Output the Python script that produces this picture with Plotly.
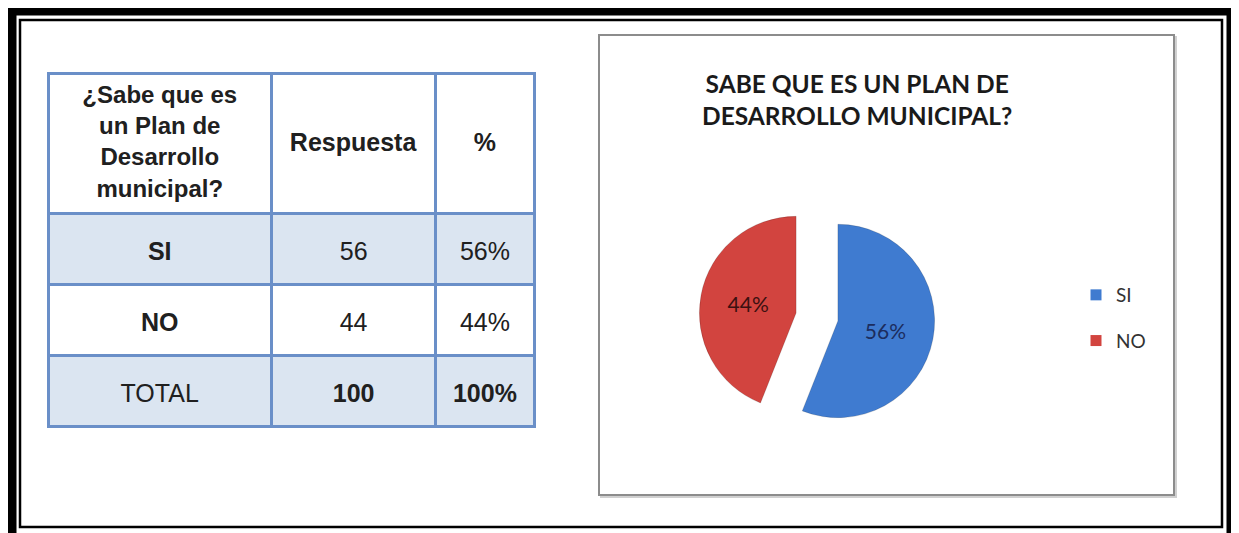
import plotly.graph_objects as go

# ---------------- data ----------------
categories = ["SI", "NO"]
responses = [56, 44]
percent_labels = ["56%", "44%"]
total_label = "TOTAL"
total_responses = "100"
total_percent = "100%"
header_question_lines = ["¿Sabe que es", "un Plan de", "Desarrollo", "municipal?"]
header_labels = ["Respuesta", "%"]
chart_title = "SABE QUE ES UN PLAN DE<br>DESARROLLO MUNICIPAL?"

slice_colors = ["#3f7bd0", "#d2443f"]
slice_text_colors = ["#1c2d5e", "#3c1010"]

# The page body has an 8px margin: work in screen pixels and convert.
OFF = 8
W, H = 1231, 525
NB = "\u00a0"


def X(px):
    return (px - OFF) / W


def Y(py):
    return 1 - (py - OFF) / H


def big(txt, bold=False, size=25, pad_lines=1):
    inner = "<b>%s</b>" % txt if bold else txt
    return (NB + "<br>") * pad_lines + "<span style='font-size:%dpx'>%s</span>" % (size, inner)


# Arial-bold advance widths (em) used to centre each line of the multi-line header
ARIAL_BOLD = {"¿": .611, "S": .667, "a": .556, "b": .611, "e": .556, " ": .278, "q": .611,
              "u": .611, "s": .556, "n": .611, "P": .667, "l": .278, "d": .611, "D": .722,
              "r": .389, "o": .611, "m": .889, "i": .278, "c": .556, "p": .611, "?": .611}
HDR_SIZE = 24


def centred_lines(lines, size):
    widths = [sum(ARIAL_BOLD.get(ch, .6) for ch in ln) for ln in lines]
    wmax = max(widths)
    nb_w = 0.278 * size
    out = []
    for ln, w in zip(lines, widths):
        pad_px = (wmax - w) / 2 * size
        n_full = int(pad_px // nb_w)
        rest = pad_px - n_full * nb_w
        pad = NB * n_full
        if rest > 0.5:
            pad += "<span style='font-size:%.1fpx'>%s</span>" % (rest / 0.278, NB)
        out.append(pad + "<b>%s</b>" % ln)
    return "<br>".join(out)


fig = go.Figure()

# ---------------- table ----------------
blue_fill = "#dbe5f1"
col1 = [big(c, bold=True) for c in categories] + [big(total_label)]
col2 = [big(str(v)) for v in responses] + [big(total_responses, bold=True)]
col3 = [big(p) for p in percent_labels] + [big(total_percent, bold=True)]
row_fills = [blue_fill, "white", blue_fill]

header_vals = [centred_lines(header_question_lines, HDR_SIZE)] + \
    [big(h, bold=True, pad_lines=2) for h in header_labels]

fig.add_trace(go.Table(
    domain=dict(x=[X(48), X(534)], y=[Y(445), Y(73)]),
    columnwidth=[223, 164, 98],
    header=dict(
        values=header_vals,
        height=140,
        align="center",
        fill_color="white",
        line=dict(color="#6a8fc8", width=3),
        font=dict(family="Liberation Sans, Arial", size=[HDR_SIZE, 20, 20], color="#202020"),
    ),
    cells=dict(
        values=[col1, col2, col3],
        height=71,
        align="center",
        fill_color=[row_fills, row_fills, row_fills],
        line=dict(color="#6a8fc8", width=3),
        font=dict(family="Liberation Sans, Arial", size=17.5, color="#202020"),
    ),
))

# ---------------- pie ----------------
fig.add_trace(go.Pie(
    labels=categories,
    values=responses,
    sort=False,
    direction="clockwise",
    rotation=0,
    pull=[0.22, 0.22],
    marker=dict(colors=slice_colors, line=dict(color="rgba(0,0,0,0.15)", width=1)),
    textinfo="percent",
    textposition="inside",
    insidetextorientation="horizontal",
    textfont=dict(family="Lato, Open Sans", size=21, color=slice_text_colors),
    domain=dict(x=[X(699), X(935)], y=[Y(435), Y(199)]),
    showlegend=False,
    hoverinfo="label+value+percent",
))

# legend entries (one per category)
for cat, col in zip(categories, slice_colors):
    fig.add_trace(go.Scatter(
        x=[None], y=[None], mode="markers", name=cat,
        marker=dict(symbol="square", size=11, color=col),
        legendgroup=cat, showlegend=True,
    ))

fig.update_xaxes(visible=False)
fig.update_yaxes(visible=False)

shapes = [
    # outer thick frame
    dict(type="rect", xref="paper", yref="paper", x0=X(12), x1=X(1231), y0=Y(545), y1=Y(11),
         line=dict(color="black", width=9), layer="above"),
    # inner thin frame
    dict(type="rect", xref="paper", yref="paper", x0=X(20), x1=X(1222), y0=Y(527), y1=Y(20),
         line=dict(color="black", width=2.5), layer="above"),
    # chart box shadow
    dict(type="rect", xref="paper", yref="paper", x0=X(601), x1=X(1176), y0=Y(497), y1=Y(37),
         line=dict(color="#d0d0d0", width=2), layer="below"),
    # chart box
    dict(type="rect", xref="paper", yref="paper", x0=X(599), x1=X(1174), y0=Y(495), y1=Y(35),
         line=dict(color="#8c8c8c", width=2), fillcolor="white", layer="below"),
]

fig.update_layout(
    width=W, height=H,
    margin=dict(l=0, r=0, t=0, b=0),
    paper_bgcolor="white",
    plot_bgcolor="rgba(0,0,0,0)",
    shapes=shapes,
    showlegend=True,
    legend=dict(
        x=X(1076), y=Y(318), xanchor="left", yanchor="middle",
        font=dict(family="Lato, Open Sans", size=19, color="#333333"),
        tracegroupgap=18, bgcolor="rgba(0,0,0,0)",
    ),
    annotations=[dict(
        text="<b>%s</b>" % chart_title, xref="paper", yref="paper", x=X(857), y=Y(100),
        xanchor="center", yanchor="middle", showarrow=False,
        font=dict(family="Lato, Open Sans", size=24.5, color="#1a1a1a"),
    )],
)

fig.write_html("out.html")
